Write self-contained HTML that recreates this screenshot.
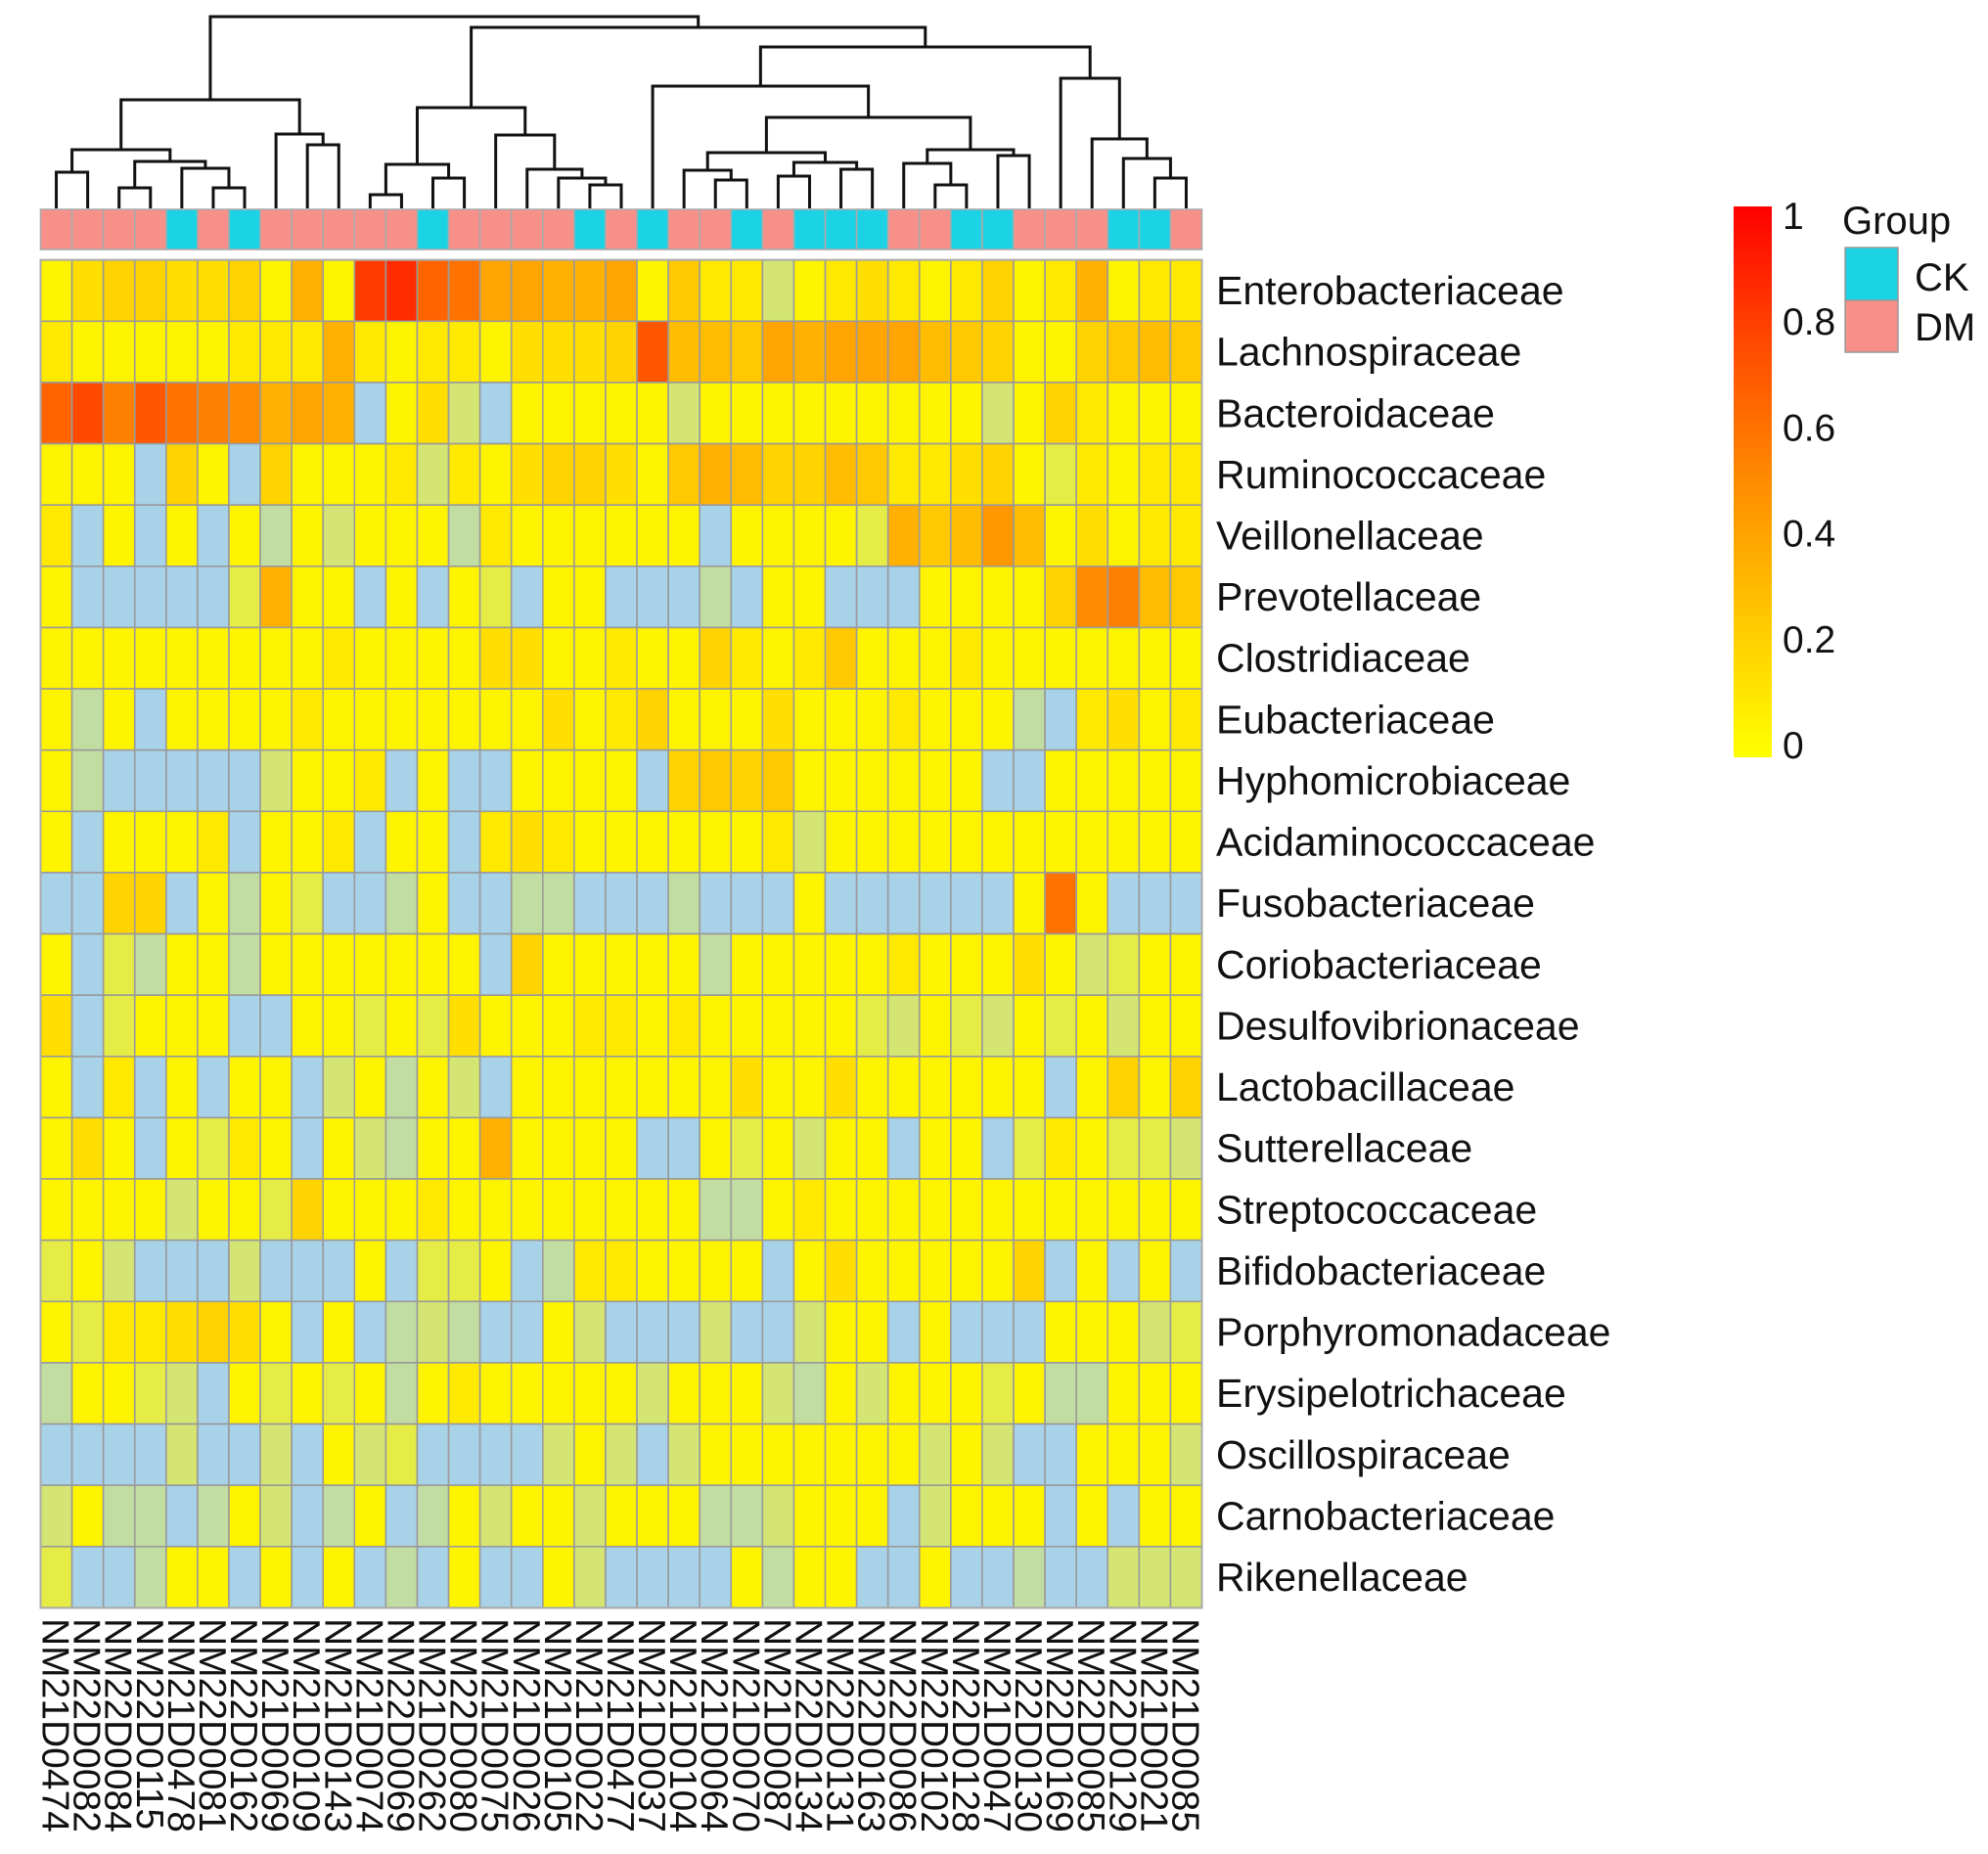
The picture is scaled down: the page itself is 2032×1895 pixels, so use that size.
<!DOCTYPE html>
<html><head><meta charset="utf-8"><style>
body{margin:0;background:#fff;}
svg{display:block;font-family:"Liberation Sans",sans-serif;}
</style>
</head><body>
<svg id="hm-chart" width="2032" height="1895" viewBox="0 0 2032 1895" xmlns="http://www.w3.org/2000/svg">
<rect x="0" y="0" width="2032" height="1895" fill="#fff"/>
<g id="g-dendro"></g>
<g id="g-groupbar"></g>
<g id="g-cells"></g>
<g id="g-rowlabels"></g>
<g id="g-collabels"></g>
<g id="g-legend">
  <defs><linearGradient id="cbar" x1="0" y1="1" x2="0" y2="0">
    <stop offset="0" stop-color="#FFFF00"/><stop offset="0.25" stop-color="#FFC800"/>
    <stop offset="0.5" stop-color="#FF8C00"/><stop offset="0.75" stop-color="#FF4A00"/>
    <stop offset="1" stop-color="#FF0000"/></linearGradient></defs>
  <rect x="1772" y="211" width="39" height="563" fill="url(#cbar)"/>
  <g id="g-cticks"></g>
  <text x="1883" y="239" font-size="40" fill="#111">Group</text>
  <rect x="1886" y="253" width="54" height="54" fill="#1CD3E6" stroke="#999" stroke-width="1.5"/>
  <rect x="1886" y="307" width="54" height="53" fill="#F8908A" stroke="#999" stroke-width="1.5"/>
  <text x="1957" y="297" font-size="40" fill="#111">CK</text>
  <text x="1957" y="348" font-size="40" fill="#111">DM</text>
</g>
</svg>
<script>
var familyNames = ["Enterobacteriaceae","Lachnospiraceae","Bacteroidaceae","Ruminococcaceae","Veillonellaceae","Prevotellaceae","Clostridiaceae","Eubacteriaceae","Hyphomicrobiaceae","Acidaminococcaceae","Fusobacteriaceae","Coriobacteriaceae","Desulfovibrionaceae","Lactobacillaceae","Sutterellaceae","Streptococcaceae","Bifidobacteriaceae","Porphyromonadaceae","Erysipelotrichaceae","Oscillospiraceae","Carnobacteriaceae","Rikenellaceae"];
var sampleNames = ["NM21D0474","NM22D0082","NM22D0084","NM22D0115","NM21D0478","NM22D0081","NM22D0162","NM21D0069","NM21D0109","NM21D0143","NM21D0074","NM22D0069","NM21D0262","NM22D0080","NM21D0075","NM21D0026","NM21D0105","NM21D0022","NM21D0477","NM21D0037","NM21D0104","NM21D0064","NM21D0070","NM21D0087","NM22D0134","NM22D0131","NM22D0163","NM22D0086","NM22D0102","NM22D0128","NM21D0047","NM22D0130","NM22D0169","NM22D0085","NM22D0129","NM21D0021","NM21D0085"];
var sampleGroups = ["DM","DM","DM","DM","CK","DM","CK","DM","DM","DM","DM","DM","CK","DM","DM","DM","DM","CK","DM","CK","DM","DM","CK","DM","CK","CK","CK","DM","DM","CK","CK","DM","DM","DM","CK","CK","DM"];
var r00 = [0.05,0.15,0.2,0.2,0.15,0.15,0.2,0.05,0.35,0.05,0.8,0.85,0.65,0.6,0.4,0.4,0.35,0.35,0.4,0.05,0.25,0.1,0.1,-0.5,0.05,0.1,0.15,0.1,0.05,0.1,0.2,0.05,0.1,0.35,0.05,0.1,0.1];
var r01 = [0.1,0.05,0.05,0.05,0.05,0.05,0.1,0.1,0.1,0.35,0.1,0.05,0.1,0.1,0.05,0.15,0.15,0.15,0.2,0.7,0.3,0.3,0.25,0.4,0.35,0.4,0.4,0.4,0.3,0.25,0.2,0.05,0.05,0.2,0.25,0.3,0.25];
var r02 = [0.65,0.75,0.55,0.7,0.6,0.55,0.5,0.35,0.4,0.35,-1,0.05,0.15,-0.5,-1,0.05,0.05,0.05,0.05,0.05,-0.5,0.05,0.05,0.05,0.05,0.05,0.05,0.05,0.05,0.05,-0.5,0.05,0.2,0.1,0.05,0.05,0.05];
var r03 = [0.05,0.05,0.05,-1,0.2,0.05,-1,0.2,0.05,0.05,0.05,0.1,-0.5,0.1,0.05,0.15,0.2,0.2,0.15,0.05,0.25,0.35,0.3,0.2,0.2,0.3,0.25,0.1,0.1,0.15,0.2,0.05,-0.3,0.1,0.05,0.1,0.1];
var r04 = [0.1,-1,0.05,-1,0.05,-1,0.05,-0.7,0.05,-0.5,0.05,0.05,0.05,-0.7,0.1,0.05,0.05,0.05,0.05,0.05,0.05,-1,0.05,0.05,0.05,0.05,-0.3,0.35,0.25,0.3,0.45,0.3,0.05,0.15,0.05,0.1,0.1];
var r05 = [0.05,-1,-1,-1,-1,-1,-0.3,0.35,0.05,0.05,-1,0.05,-1,0.05,-0.3,-1,0.05,0.05,-1,-1,-1,-0.7,-1,0.05,0.05,-1,-1,-1,0.05,0.05,0.05,0.05,0.2,0.5,0.55,0.3,0.25];
var r06 = [0.05,0.05,0.05,0.05,0.05,0.05,0.05,0.05,0.05,0.1,0.05,0.05,0.05,0.05,0.15,0.15,0.05,0.05,0.1,0.05,0.05,0.2,0.1,0.05,0.1,0.25,0.05,0.05,0.05,0.1,0.05,0.05,0.05,0.05,0.05,0.05,0.05];
var r07 = [0.05,-0.7,0.05,-1,0.05,0.05,0.05,0.05,0.1,0.05,0.05,0.05,0.05,0.05,0.05,0.05,0.15,0.05,0.1,0.2,0.05,0.05,0.05,0.15,0.05,0.05,0.05,0.1,0.05,0.05,0.05,-0.7,-1,0.1,0.15,0.05,0.1];
var r08 = [0.05,-0.7,-1,-1,-1,-1,-1,-0.5,0.05,0.05,0.1,-1,0.05,-1,-1,0.05,0.05,0.05,0.05,-1,0.2,0.25,0.2,0.25,0.05,0.05,0.05,0.05,0.05,0.05,-1,-1,0.05,0.05,0.05,0.05,0.05];
var r09 = [0.05,-1,0.05,0.05,0.05,0.1,-1,0.05,0.05,0.1,-1,0.05,0.05,-1,0.1,0.15,0.1,0.05,0.05,0.05,0.05,0.05,0.05,0.1,-0.5,0.05,0.05,0.05,0.05,0.05,0.05,0.05,0.05,0.05,0.05,0.05,0.05];
var r10 = [-1,-1,0.2,0.2,-1,0.05,-0.7,0.05,-0.3,-1,-1,-0.7,0.05,-1,-1,-0.7,-0.7,-1,-1,-1,-0.7,-1,-1,-1,0.05,-1,-1,-1,-1,-1,-1,0.05,0.6,0.05,-1,-1,-1];
var r11 = [0.05,-1,-0.3,-0.7,0.05,0.05,-0.7,0.05,0.05,0.05,0.05,0.05,0.05,0.05,-1,0.2,0.05,0.05,0.05,0.05,0.05,-0.7,0.05,0.05,0.05,0.05,0.05,0.1,0.05,0.05,0.05,0.15,0.05,-0.5,-0.3,0.05,0.05];
var r12 = [0.15,-1,-0.3,0.05,0.05,0.05,-1,-1,0.05,0.05,-0.3,0.05,-0.3,0.15,0.05,0.05,0.05,0.1,0.1,0.05,0.1,0.05,0.05,0.05,0.05,0.05,-0.3,-0.5,0.05,-0.3,-0.5,0.05,-0.3,0.05,-0.5,0.05,0.05];
var r13 = [0.05,-1,0.1,-1,0.05,-1,0.05,0.05,-1,-0.5,0.05,-0.7,0.05,-0.5,-1,0.05,0.05,0.05,0.05,0.05,0.05,0.05,0.15,0.05,0.05,0.15,0.05,0.05,0.05,0.05,0.05,0.05,-1,0.05,0.2,0.05,0.2];
var r14 = [0.05,0.15,0.05,-1,0.05,-0.3,0.1,0.05,-1,0.05,-0.5,-0.7,0.05,0.05,0.35,0.05,0.05,0.05,0.05,-1,-1,0.05,-0.3,0.05,-0.5,0.05,0.05,-1,0.05,0.05,-1,-0.3,0.1,0.05,-0.3,-0.3,-0.5];
var r15 = [0.05,0.05,0.05,0.05,-0.5,0.05,0.05,-0.3,0.2,0.05,0.05,0.05,0.1,0.05,0.05,0.05,0.05,0.05,0.05,0.05,0.05,-0.7,-0.7,0.05,0.1,0.05,0.05,0.05,0.05,0.05,0.05,0.05,0.05,0.05,0.05,0.05,0.05];
var r16 = [-0.3,0.05,-0.5,-1,-1,-1,-0.5,-1,-1,-1,0.05,-1,-0.3,-0.3,0.05,-1,-0.7,0.1,0.1,0.05,0.05,0.05,0.05,-1,0.05,0.15,0.05,0.05,0.05,0.05,0.05,0.2,-1,0.05,-1,0.05,-1];
var r17 = [0.05,-0.3,0.1,0.1,0.15,0.2,0.15,0.05,-1,0.05,-1,-0.7,-0.5,-0.7,-1,-1,0.05,-0.5,-1,-1,-1,-0.5,-1,-1,-0.5,0.05,0.05,-1,0.05,-1,-1,-1,0.05,0.05,0.05,-0.5,-0.3];
var r18 = [-0.7,0.05,0.05,-0.3,-0.5,-1,0.05,-0.3,0.05,-0.3,0.05,-0.7,0.05,0.1,0.05,0.05,0.05,0.05,0.05,-0.5,0.05,0.05,0.05,-0.5,-0.7,0.05,-0.5,0.05,0.05,0.05,-0.3,0.05,-0.7,-0.7,0.05,0.05,0.05];
var r19 = [-1,-1,-1,-1,-0.5,-1,-1,-0.5,-1,0.05,-0.5,-0.3,-1,-1,-1,-1,-0.5,0.05,-0.5,-1,-0.5,0.05,0.05,0.05,0.05,0.05,0.05,0.05,-0.5,0.05,-0.5,-1,-1,0.05,0.05,0.05,-0.5];
var r20 = [-0.5,0.05,-0.7,-0.7,-1,-0.7,0.05,-0.5,-1,-0.7,0.05,-1,-0.7,0.05,-0.5,0.05,0.05,-0.5,0.05,0.05,0.05,-0.7,-0.7,-0.5,0.05,0.05,0.05,-1,-0.5,0.05,0.05,0.05,-1,0.05,-1,0.05,0.05];
var r21 = [-0.3,-1,-1,-0.7,0.05,0.05,-1,0.05,-1,0.05,-1,-0.7,-1,0.05,-1,-1,0.05,-0.5,-1,-1,-1,-1,0.05,-0.7,0.05,0.05,-1,-1,0.05,-1,-1,-0.7,-1,-1,-0.5,-0.5,-0.5];
var heatValues = [r00,r01,r02,r03,r04,r05,r06,r07,r08,r09,r10,r11,r12,r13,r14,r15,r16,r17,r18,r19,r20,r21];
var colorTicks = [0,0.2,0.4,0.6,0.8,1];
var colorTickLabels = ["0","0.2","0.4","0.6","0.8","1"];
var dendroLeft = [[[0,1,176],[[2,3,192],[4,[5,6,192],172],165],153],[7,[8,9,148],137],102];
var dendroMid = [[[10,11,199],[12,13,182],168],[14,[15,[16,[17,18,189],182],173],138],110];
var dendroRightA = [19,[[[20,[21,22,184],174],[[23,24,180],[25,26,173],166],156],[[27,[28,29,189],167],[30,31,159],153],120],88];
var dendroRightB = [32,[33,[34,[35,36,182],162],142],80];
var dendroTree = [dendroLeft,[dendroMid,[dendroRightA,dendroRightB,48],28],17];
</script>
<script>
(function(){
  var NSV="http://www.w3.org/2000/svg";
  var X0=41.5, PW=1187, Y0=265.7, PH=1377.7;
  var nC=sampleNames.length, nR=familyNames.length;
  var cw=PW/nC, rh=PH/nR;
  function xPos(i){return X0+i*cw;}
  function yPos(j){return Y0+j*rh;}
  var leafBottom=213;
  function mix(a,b,t){var o=[];for(var i=0;i!==3;i++){o.push(Math.round(a[i]+(b[i]-a[i])*t));}return o;}
  var cstops=[[0,[255,255,0]],[0.25,[255,200,0]],[0.5,[255,140,0]],[0.75,[255,74,0]],[1,[255,0,0]]];
  function colorOf(v){
    var c;
    if(v*1 !== v){return "rgb(200,200,200)";}
    if(0 > v){c=mix([255,247,0],[168,210,232],Math.min(1,-v));return "rgb("+c.join(",")+")";}
    for(var k=1;k!==cstops.length;k++){
      if(cstops[k][0] >= v){var t=(v-cstops[k-1][0])/(cstops[k][0]-cstops[k-1][0]);c=mix(cstops[k-1][1],cstops[k][1],t);return "rgb("+c.join(",")+")";}
    }
    return "rgb(255,0,0)";
  }
  function mk(tag,attrs,parent){var e=document.createElementNS(NSV,tag);for(var k in attrs){e.setAttribute(k,String(attrs[k]));}parent.appendChild(e);return e;}

  try{
    var gCells=document.getElementById('g-cells');
    heatValues.forEach(function(row,j){row.forEach(function(v,i){
      var r=mk('rect',{x:xPos(i),y:yPos(j),width:cw,height:rh,fill:colorOf(v),stroke:'#9a9a9a','stroke-width':1.6},gCells);
      
      
    });});
    mk('rect',{x:X0,y:Y0,width:PW,height:PH,fill:'none',stroke:'#aaa','stroke-width':2},gCells);
  }catch(e){}

  try{
    var gGb=document.getElementById('g-groupbar');
    sampleGroups.forEach(function(g,i){
      var r=mk('rect',{x:xPos(i),y:214,width:cw,height:41,fill:(g==='CK'?'#1CD3E6':'#F8908A'),stroke:'#aaa','stroke-width':1.6},gGb);
      
      
    });
  }catch(e){}

  try{
    var gRl=document.getElementById('g-rowlabels');
    familyNames.forEach(function(f,j){
      var t=mk('text',{x:1243,y:yPos(j)+rh/2+14,'font-size':41,fill:'#111'},gRl);
      t.textContent=f;
      
      
    });
  }catch(e){}

  try{
    var gCl=document.getElementById('g-collabels');
    sampleNames.forEach(function(s,i){
      var cx=xPos(i)+cw/2-14, y=1654;
      var t=mk('text',{x:cx,y:y,'font-size':39,fill:'#111',transform:'rotate(90 '+cx+' '+y+')'},gCl);
      t.textContent=s;
      
      
    });
  }catch(e){}

  try{
    var gDg=document.getElementById('g-dendro');
    var drawNode=function(n){
      if(typeof n==='number'){return {x:xPos(n)+cw/2,y:leafBottom};}
      var a=drawNode(n[0]), b=drawNode(n[1]), h=n[2];
      var p=mk('path',{d:'M'+a.x+','+a.y+'V'+h+'H'+b.x+'V'+b.y,fill:'none',stroke:'#111','stroke-width':3},gDg);
      
      
      return {x:(a.x+b.x)/2,y:h};
    };
    drawNode(dendroTree);
  }catch(e){}

  try{
    var gCt=document.getElementById('g-cticks');
    colorTicks.forEach(function(v,k){
      var t=mk('text',{x:1822,y:761-v*541+14,'font-size':39,fill:'#111'},gCt);
      t.textContent=colorTickLabels[k];
      
      
    });
  }catch(e){}
})();
</script>
</body></html>
